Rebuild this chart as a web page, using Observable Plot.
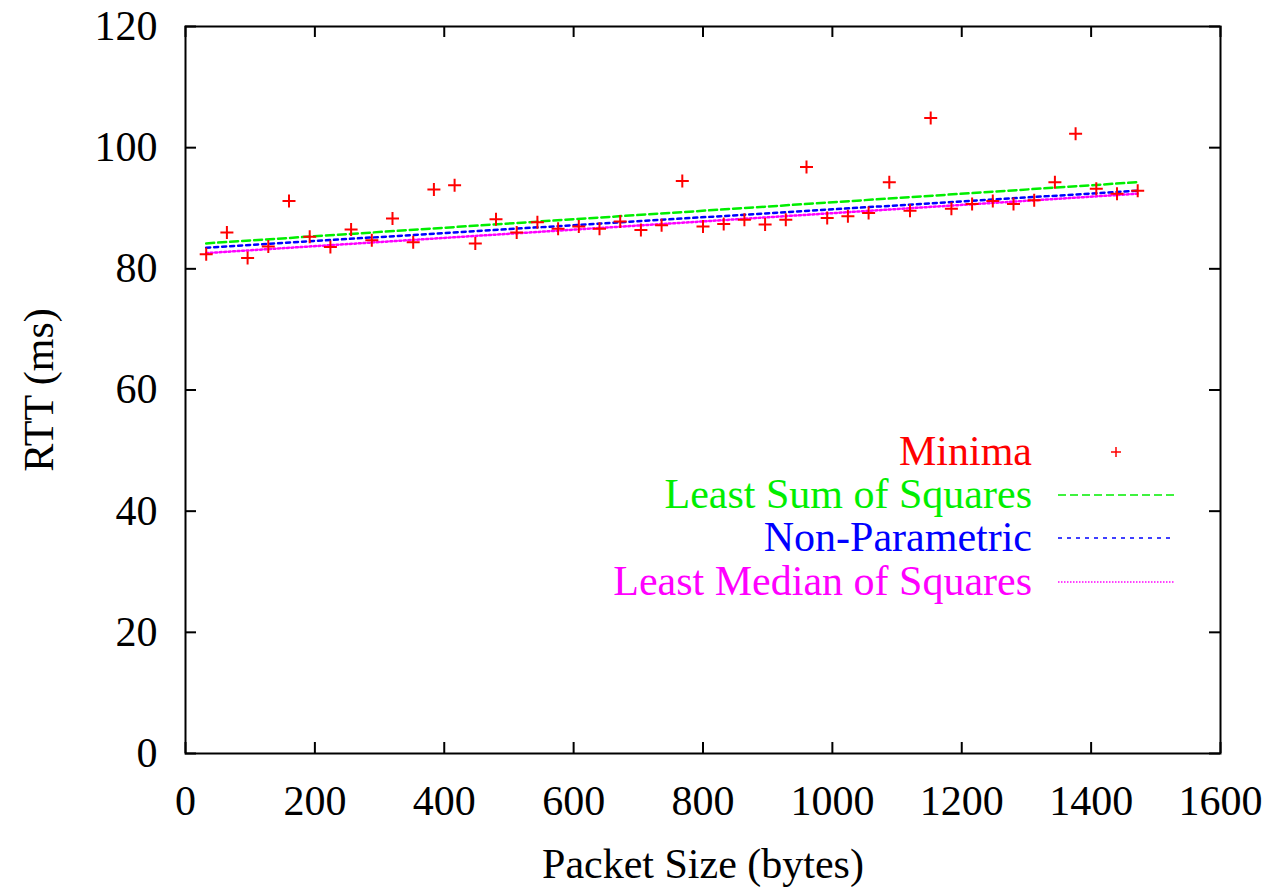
<!DOCTYPE html>
<html>
<head>
<meta charset="utf-8">
<script src="https://cdn.jsdelivr.net/npm/d3@7"></script>
<script src="https://cdn.jsdelivr.net/npm/@observablehq/plot@0.6"></script>
<style>
  html, body { margin: 0; padding: 0; background: #fff; }
  #wrap { position: relative; width: 1270px; height: 888px; }
  #legend { position: absolute; left: 0; top: 0; pointer-events: none; }
</style>
</head>
<body>
<div id="wrap"></div>
<script>
// ---- data ----
const packetSize = [32, 64, 96, 128, 160, 192, 224, 256, 288, 320, 352, 384, 416, 448, 480, 512,
  544, 576, 608, 640, 672, 704, 736, 768, 800, 832, 864, 896, 928, 960, 992, 1024, 1056, 1088,
  1120, 1152, 1184, 1216, 1248, 1280, 1312, 1344, 1376, 1408, 1440, 1472];
const minimaRTT = [82.4, 86.0, 81.8, 83.7, 91.2, 85.3, 83.6, 86.5, 84.7, 88.3,
  84.4, 93.1, 93.8, 84.2, 88.2, 86.0, 87.7, 86.6, 87.0, 86.6,
  87.8, 86.4, 87.2, 94.5, 87.0, 87.4, 88.1, 87.3, 88.1, 96.8,
  88.4, 88.7, 89.2, 94.3, 89.6, 104.9, 89.9, 90.7, 91.2, 90.7,
  91.3, 94.3, 102.3, 93.2, 92.4, 92.9];
const fitX = [32, 1472];
const leastSumSquaresY = [84.2, 94.3];
const nonParametricY = [83.5, 92.9];
const leastMedianSquaresY = [82.6, 92.4];
const xTicks = [0, 200, 400, 600, 800, 1000, 1200, 1400, 1600];
const yTicks = [0, 20, 40, 60, 80, 100, 120];
const legendLabels = ["Minima", "Least Sum of Squares", "Non-Parametric", "Least Median of Squares"];
const seriesColors = ["#ff0000", "#00ee00", "#0000ff", "#ff00ff"];

// ---- tables ----
const minima = packetSize.map((x, i) => ({x, y: minimaRTT[i]}));
const lss = fitX.map((x, i) => ({x, y: leastSumSquaresY[i]}));
const np = fitX.map((x, i) => ({x, y: nonParametricY[i]}));
const lms = fitX.map((x, i) => ({x, y: leastMedianSquaresY[i]}));

const plusSymbol = {
  draw(ctx, size) {
    const r = Math.sqrt(size / Math.PI);
    ctx.moveTo(-r, 0); ctx.lineTo(r, 0);
    ctx.moveTo(0, -r); ctx.lineTo(0, r);
  }
};

const W = 1270, H = 888, mL = 185, mR = 50, mT = 26, mB = 135;
const innerW = W - mL - mR, innerH = H - mT - mB, tickLen = 11;
const font = "'Liberation Serif', 'Times New Roman', serif";

const chart = Plot.plot({
  width: W, height: H,
  marginLeft: mL, marginRight: mR, marginTop: mT, marginBottom: mB,
  style: {fontFamily: font, fontSize: "42px", background: "#fff", color: "#000"},
  x: {domain: [0, 1600]},
  y: {domain: [0, 120]},
  marks: [
    Plot.axisX(xTicks, {tickSize: 0, tickPadding: 32, tickFormat: d => String(d), label: "Packet Size (bytes)", labelAnchor: "center", labelArrow: "none", labelOffset: 124, fontSize: 42}),
    Plot.axisY(yTicks, {tickSize: 0, tickPadding: 28, tickFormat: d => String(d), label: "RTT (ms)", labelAnchor: "center", labelOffset: 162, labelArrow: "none", fontSize: 42}),
    Plot.tickX(xTicks, {x: d => d, insetTop: innerH - tickLen, stroke: "#000", strokeWidth: 2}),
    Plot.tickX(xTicks, {x: d => d, insetBottom: innerH - tickLen, stroke: "#000", strokeWidth: 2}),
    Plot.tickY(yTicks, {y: d => d, insetRight: innerW - tickLen, stroke: "#000", strokeWidth: 2}),
    Plot.tickY(yTicks, {y: d => d, insetLeft: innerW - tickLen, stroke: "#000", strokeWidth: 2}),
    Plot.line(lss, {x: "x", y: "y", stroke: seriesColors[1], strokeWidth: 2.5, strokeDasharray: "8,4"}),
    Plot.line(np, {x: "x", y: "y", stroke: seriesColors[2], strokeWidth: 2.5, strokeDasharray: "4,4"}),
    Plot.line(lms, {x: "x", y: "y", stroke: seriesColors[3], strokeWidth: 2.5, strokeDasharray: "2,2.5"}),
    Plot.dot(minima, {x: "x", y: "y", symbol: plusSymbol, r: 6.5, fill: "none", stroke: seriesColors[0], strokeWidth: 2}),
    Plot.frame({stroke: "#000", strokeWidth: 2})
  ]
});
document.getElementById("wrap").appendChild(chart);

// ---- legend (inside plot, right side) ----
const legendDash = [null, "8,4", "4,5", "1.5,1.5"];
const lg = d3.select("#wrap").append("svg")
  .attr("id", "legend").attr("width", W).attr("height", H);
const rowCenter = [452, 495, 538, 582];
legendLabels.forEach((lab, i) => {
  const cy = rowCenter[i];
  lg.append("text")
    .attr("x", 1032).attr("y", cy).attr("dy", "0.32em")
    .attr("text-anchor", "end")
    .attr("font-family", font).attr("font-size", 42)
    .attr("fill", seriesColors[i]).text(lab);
  if (i === 0) {
    lg.append("path").attr("d", `M1111,${cy}H1121M1116,${cy - 5}V${cy + 5}`)
      .attr("stroke", seriesColors[0]).attr("stroke-width", 1.5).attr("fill", "none");
  } else {
    lg.append("line").attr("x1", 1058).attr("x2", 1174).attr("y1", cy).attr("y2", cy)
      .attr("stroke", seriesColors[i]).attr("stroke-width", 1.3)
      .attr("stroke-dasharray", legendDash[i]);
  }
});
</script>
</body>
</html>
